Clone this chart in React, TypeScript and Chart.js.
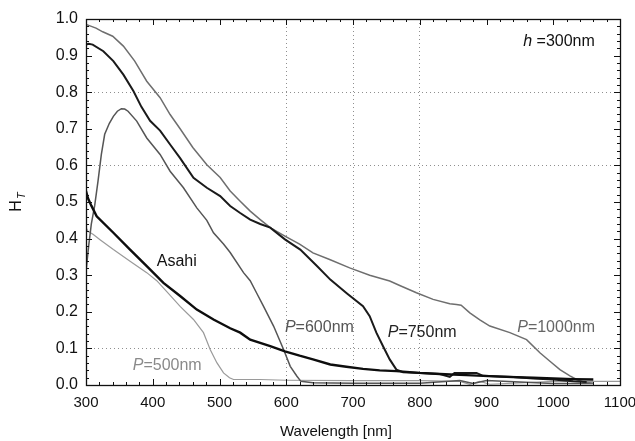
import { useEffect, useRef } from "react";
import { Chart, registerables } from "chart.js";

Chart.register(...registerables);

// Transmission H_T versus wavelength for several grating periods P (h = 300 nm)
const p1000Wl = [300, 305, 315, 325, 340, 356, 373, 391, 411, 426, 441, 460, 481, 501, 516, 531, 546, 561, 576, 598, 620, 640, 665, 695, 725, 755, 770, 795, 820, 845, 855, 862, 875, 890, 905, 935, 960, 980, 995, 1010, 1025, 1035, 1045, 1060];
const p1000Ht = [0.985, 0.982, 0.975, 0.965, 0.953, 0.926, 0.885, 0.83, 0.785, 0.739, 0.7, 0.649, 0.602, 0.567, 0.53, 0.502, 0.475, 0.452, 0.43, 0.407, 0.385, 0.361, 0.343, 0.32, 0.3, 0.284, 0.272, 0.252, 0.234, 0.222, 0.22, 0.218, 0.197, 0.178, 0.161, 0.143, 0.124, 0.088, 0.065, 0.042, 0.025, 0.015, 0.008, 0.005];

const p750Wl = [300, 304, 310, 326, 341, 356, 371, 383, 396, 411, 426, 441, 461, 481, 501, 516, 531, 546, 561, 576, 598, 621, 646, 666, 691, 715, 725, 735, 745, 755, 765, 775, 800, 830, 845, 852, 885, 895, 940, 970, 1000, 1030, 1050];
const p750Ht = [0.93, 0.932, 0.93, 0.912, 0.885, 0.848, 0.803, 0.76, 0.722, 0.695, 0.657, 0.62, 0.566, 0.539, 0.516, 0.489, 0.47, 0.452, 0.44, 0.43, 0.398, 0.37, 0.325, 0.288, 0.25, 0.215, 0.188, 0.143, 0.106, 0.07, 0.042, 0.035, 0.033, 0.03, 0.022, 0.033, 0.033, 0.025, 0.022, 0.018, 0.015, 0.01, 0.008];

const asahiWl = [300, 303, 308, 316, 341, 366, 391, 416, 441, 466, 491, 516, 531, 546, 576, 598, 620, 640, 666, 690, 715, 740, 765, 800, 830, 870, 920, 970, 1000, 1030, 1060];
const asahiHt = [0.53, 0.51, 0.49, 0.461, 0.416, 0.37, 0.325, 0.279, 0.243, 0.206, 0.179, 0.155, 0.143, 0.124, 0.106, 0.092, 0.08, 0.07, 0.056, 0.05, 0.044, 0.04, 0.038, 0.033, 0.03, 0.027, 0.023, 0.02, 0.018, 0.016, 0.015];

const p600Wl = [300, 304, 308, 313, 318, 323, 328, 335, 341, 347, 353, 358, 363, 376, 391, 411, 426, 446, 466, 481, 491, 506, 516, 536, 546, 556, 566, 581, 596, 606, 616, 622, 640, 700, 800, 860, 880, 900, 1000, 1060];
const p600Ht = [0.31, 0.38, 0.44, 0.49, 0.557, 0.63, 0.685, 0.715, 0.734, 0.748, 0.755, 0.754, 0.748, 0.721, 0.675, 0.63, 0.584, 0.539, 0.484, 0.45, 0.416, 0.385, 0.362, 0.307, 0.285, 0.25, 0.215, 0.161, 0.097, 0.051, 0.024, 0.01, 0.006, 0.005, 0.005, 0.012, 0.004, 0.012, 0.004, 0.004];

const p500Wl = [300, 303, 311, 321, 341, 366, 391, 406, 421, 441, 461, 476, 481, 486, 496, 506, 515, 521, 560, 600, 700, 800, 860, 875, 890, 905, 1000, 1100];
const p500Ht = [0.43, 0.42, 0.411, 0.397, 0.37, 0.338, 0.307, 0.285, 0.255, 0.215, 0.179, 0.143, 0.12, 0.097, 0.061, 0.033, 0.02, 0.015, 0.015, 0.013, 0.012, 0.012, 0.01, 0.002, 0.01, 0.002, 0.01, 0.01];

const xTickValues = [300, 400, 500, 600, 700, 800, 900, 1000, 1100];
const xGridValues = [600, 700, 800];
const yGridValues = [0.1, 0.6, 0.8];

const FONT = "'Liberation Sans', Arial, Helvetica, sans-serif";
const GRID_COLOR = "rgba(105,105,105,0.75)";

const toPoints = (xs: number[], ys: number[]) => xs.map((x, i) => ({ x, y: ys[i] }));

type Label = { italic: string; rest: string; x: number; y: number; color: string };
const curveLabels: Label[] = [
  { italic: "", rest: "Asahi", x: 406, y: 0.337, color: "#111" },
  { italic: "P", rest: "=600nm", x: 598, y: 0.157, color: "#555" },
  { italic: "P", rest: "=750nm", x: 752, y: 0.143, color: "#222" },
  { italic: "P", rest: "=1000nm", x: 946, y: 0.157, color: "#666" },
  { italic: "P", rest: "=500nm", x: 370, y: 0.053, color: "#8a8a8a" },
  { italic: "h", rest: " =300nm", x: 955, y: 0.938, color: "#111" },
];

const decorations = {
  id: "decorations",
  afterDatasetsDraw(chart: any) {
    const { ctx, chartArea: a, scales } = chart;
    const xs = scales.x;
    const ys = scales.y;
    ctx.save();

    // frame
    ctx.strokeStyle = "#111";
    ctx.lineWidth = 1.3;
    ctx.strokeRect(Math.round(a.left) + 0.5, Math.round(a.top) + 0.5, Math.round(a.right - a.left), Math.round(a.bottom - a.top));

    // inward tick marks on all four sides
    ctx.lineWidth = 1;
    ctx.beginPath();
    for (let v = 300; v <= 1100; v += 20) {
      const px = Math.round(xs.getPixelForValue(v)) + 0.5;
      const len = v % 100 === 0 ? 6 : 3;
      ctx.moveTo(px, a.bottom);
      ctx.lineTo(px, a.bottom - len);
      ctx.moveTo(px, a.top);
      ctx.lineTo(px, a.top + len);
    }
    for (let i = 0; i <= 50; i++) {
      const v = i * 0.02;
      const py = Math.round(ys.getPixelForValue(v)) + 0.5;
      const len = i % 5 === 0 ? 6 : 3;
      ctx.moveTo(a.left, py);
      ctx.lineTo(a.left + len, py);
      ctx.moveTo(a.right, py);
      ctx.lineTo(a.right - len, py);
    }
    ctx.stroke();

    // curve labels
    ctx.textBaseline = "middle";
    ctx.textAlign = "left";
    for (const l of curveLabels) {
      let px = xs.getPixelForValue(l.x);
      const py = ys.getPixelForValue(l.y);
      ctx.fillStyle = l.color;
      if (l.italic) {
        ctx.font = `italic 16px ${FONT}`;
        ctx.fillText(l.italic, px, py);
        px += ctx.measureText(l.italic).width;
      }
      ctx.font = `16px ${FONT}`;
      ctx.fillText(l.rest, px, py);
    }

    // x axis title
    ctx.fillStyle = "#111";
    ctx.font = `15px ${FONT}`;
    ctx.textAlign = "center";
    ctx.fillText("Wavelength [nm]", 336, 432);

    // y axis title H_T
    ctx.translate(17, 202);
    ctx.rotate(-Math.PI / 2);
    ctx.textAlign = "left";
    ctx.font = `16px ${FONT}`;
    const hw = ctx.measureText("H").width;
    ctx.font = `italic 11px ${FONT}`;
    const tw = ctx.measureText("T").width;
    const start = -(hw + tw + 1) / 2;
    ctx.font = `16px ${FONT}`;
    ctx.fillText("H", start, 0);
    ctx.font = `italic 11px ${FONT}`;
    ctx.fillText("T", start + hw + 1, 5);

    ctx.restore();
  },
};

export default function App() {
  const ref = useRef<HTMLCanvasElement | null>(null);

  useEffect(() => {
    if (!ref.current) return;
    const line = (label: string, xs: number[], ys: number[], color: string, width: number) => ({
      label,
      data: toPoints(xs, ys),
      borderColor: color,
      backgroundColor: color,
      borderWidth: width,
      pointRadius: 0,
      tension: 0,
      fill: false,
    });
    const chart = new Chart(ref.current, {
      type: "line",
      data: {
        datasets: [
          line("Asahi", asahiWl, asahiHt, "#0d0d0d", 2.4),
          line("P=750nm", p750Wl, p750Ht, "#1a1a1a", 2),
          line("P=1000nm", p1000Wl, p1000Ht, "#6e6e6e", 1.5),
          line("P=600nm", p600Wl, p600Ht, "#555555", 1.5),
          line("P=500nm", p500Wl, p500Ht, "#9a9a9a", 1.2),
        ],
      },
      options: {
        animation: false,
        responsive: false,
        devicePixelRatio: 1,
        layout: { padding: { left: 0, right: 15, top: 19, bottom: 0 } },
        plugins: { legend: { display: false }, tooltip: { enabled: false } },
        scales: {
          x: {
            type: "linear",
            min: 300,
            max: 1100,
            afterFit: (s: any) => {
              s.height = 56;
              s.paddingLeft = 0;
              s.paddingRight = 0;
            },
            afterBuildTicks: (s: any) => {
              s.ticks = xTickValues.map((value) => ({ value }));
            },
            // dotted grid lines take their dash from the border options
            border: { display: false, dash: [1, 3] },
            grid: {
              drawTicks: false,
              color: (c: any) => (xGridValues.includes(c.tick?.value) ? GRID_COLOR : "rgba(0,0,0,0)"),
              lineWidth: 1,
            },
            ticks: {
              padding: 9,
              color: "#111",
              font: { family: FONT, size: 15 },
              maxRotation: 0,
              callback: (v: any) => String(v),
            },
          },
          y: {
            type: "linear",
            min: 0,
            max: 1,
            afterFit: (s: any) => {
              s.width = 86;
              s.paddingTop = 0;
              s.paddingBottom = 0;
            },
            border: { display: false, dash: [1, 3] },
            grid: {
              drawTicks: false,
              color: (c: any) =>
                yGridValues.some((g) => Math.abs(g - (c.tick?.value ?? -1)) < 1e-6) ? GRID_COLOR : "rgba(0,0,0,0)",
              lineWidth: 1,
            },
            ticks: {
              stepSize: 0.1,
              padding: 8,
              color: "#111",
              font: { family: FONT, size: 16 },
              callback: (v: any) => Number(v).toFixed(1),
            },
          },
        },
      },
      plugins: [decorations],
    });
    return () => chart.destroy();
  }, []);

  return (
    <div style={{ position: "absolute", left: 0, top: 0, width: 635, height: 441, background: "#fff" }}>
      <canvas ref={ref} width={635} height={441} />
    </div>
  );
}
